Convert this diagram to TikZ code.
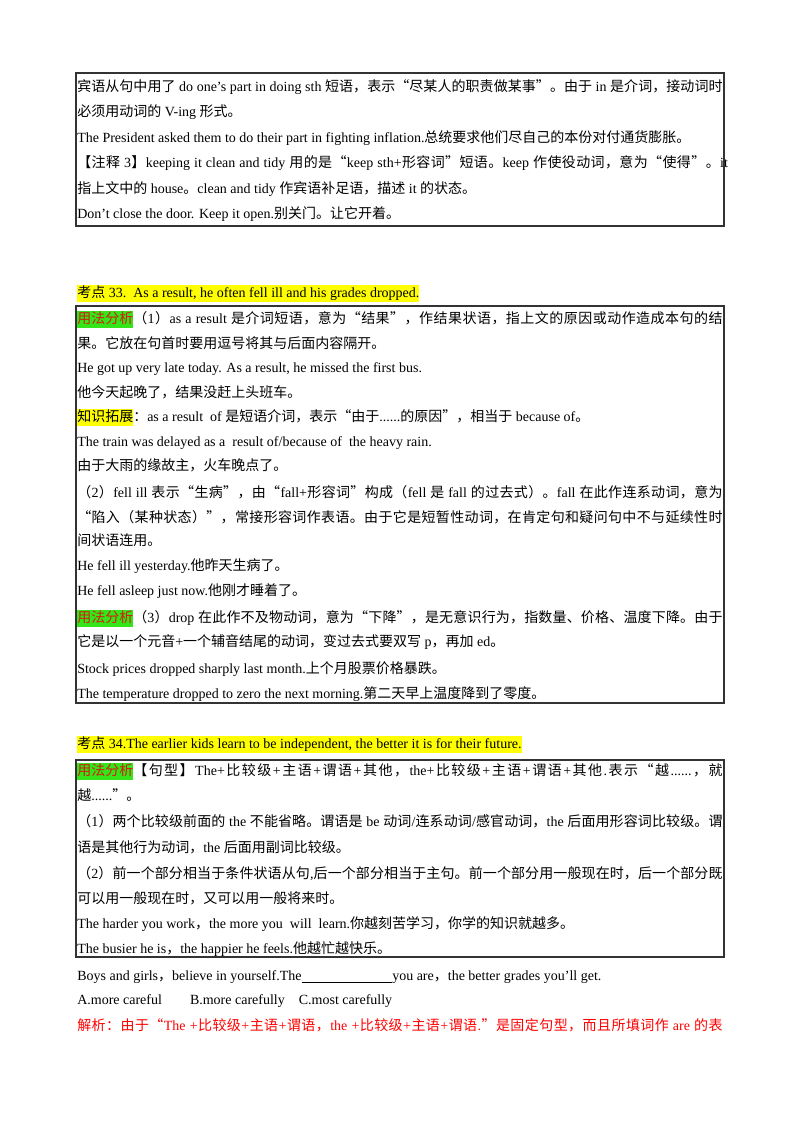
\documentclass[tikz,border=0pt]{standalone}
\usepackage{fontspec}
\setmainfont{Liberation Serif}
\newfontfamily\cjk{Noto Sans CJK SC}
\usetikzlibrary{positioning}
\XeTeXinterchartokenstate=1
\newXeTeXintercharclass\zhclass
\newcount\zhc
\def\zhrange#1#2{\zhc=#1 \loop\ifnum\zhc<#2 \XeTeXcharclass\zhc=\zhclass \advance\zhc 1 \repeat}
\zhrange{"3000}{"3040}
\zhrange{"4E00}{"A000}
\zhrange{"FF00}{"FFF0}
\XeTeXcharclass"201C=\zhclass
\XeTeXcharclass"201D=\zhclass
\XeTeXinterchartoks 0 \zhclass={\hskip0pt plus 1pt\cjk}
\XeTeXinterchartoks 4095 \zhclass={\cjk}
\XeTeXinterchartoks \zhclass 0={\hskip0pt plus 1pt\rmfamily}
\XeTeXinterchartoks \zhclass 4095={\rmfamily}
\XeTeXinterchartoks \zhclass \zhclass={\hskip0pt plus 1pt}
\definecolor{hlyellow}{rgb}{1,1,0}
\definecolor{hlgreen}{rgb}{0.2,0.9,0.1}
\definecolor{hlred}{rgb}{0.85,0.1,0.05}
\newcommand\hly[1]{{\fboxsep=0pt\colorbox{hlyellow}{\strut #1}}}
\newcommand\hlg[1]{{\fboxsep=0pt\colorbox{hlgreen}{\strut\textcolor{hlred}{#1}}}}
\newcommand\full[1]{\makebox[484pt][s]{#1}}
\begin{document}
\begin{tikzpicture}
  [x=0.75pt, y=-0.75pt,
   txt/.style={anchor=base west, inner sep=0pt, font=\fontsize{10.5}{12}\selectfont},
   frame/.style={draw=black!80, line width=0.9pt}]
  \useasboundingbox[fill=white] (0,0) rectangle (800,1132);
  % box 1
  \draw[frame] (76,73) rectangle (724,226);
  \node[txt] (a1) at (77,91) {\full{宾语从句中用了 do one’s part in doing sth 短语，表示“尽某人的职责做某事”。由于 in 是介词，接动词时}};
  \node[txt] (a2) at (77,116) {必须用动词的 V-ing 形式。};
  \node[txt] (a3) at (77,142) {The President asked them to do their part in fighting inflation.总统要求他们尽自己的本份对付通货膨胀。};
  \node[txt] (a4) at (77,167) {\makebox[488pt][s]{【注释 3】keeping it clean and tidy 用的是“keep sth+形容词”短语。keep 作使役动词，意为“使得”。it}};
  \node[txt] (a5) at (77,193) {指上文中的 house。clean and tidy 作宾语补足语，描述 it 的状态。};
  \node[txt] (a6) at (77,218) {Don’t close the door. Keep it open.别关门。让它开着。};
  % 33
  \node[txt] (t33) at (77,297) {\hly{考点 33.\ \ As a result, he often fell ill and his grades dropped.}};
  \draw[frame] (76,306) rectangle (724,703);
  \node[txt] (b1) at (77,323) {\full{\hlg{用法分析}（1）as a result 是介词短语，意为“结果”，作结果状语，指上文的原因或动作造成本句的结}};
  \node[txt] (b2) at (77,348) {果。它放在句首时要用逗号将其与后面内容隔开。};
  \node[txt] (b3) at (77,372) {He got up very late today. As a result, he missed the first bus.};
  \node[txt] (b4) at (77,397) {他今天起晚了，结果没赶上头班车。};
  \node[txt] (b5) at (77,421) {\hly{知识拓展}：as a result\ \ of 是短语介词，表示“由于......的原因”，相当于 because of。};
  \node[txt] (b6) at (77,446) {The train was delayed as a\ \ result of/because of\ \ the heavy rain.};
  \node[txt] (b7) at (77,470) {由于大雨的缘故主，火车晚点了。};
  \node[txt] (b8) at (77,497) {\full{（2）fell ill 表示“生病”，由“fall+形容词”构成（fell 是 fall 的过去式）。fall 在此作连系动词，意为}};
  \node[txt] (b9) at (77,522) {\full{“陷入（某种状态）”，常接形容词作表语。由于它是短暂性动词，在肯定句和疑问句中不与延续性时}};
  \node[txt] (b10) at (77,545) {间状语连用。};
  \node[txt] (b11) at (77,570) {He fell ill yesterday.他昨天生病了。};
  \node[txt] (b12) at (77,595) {He fell asleep just now.他刚才睡着了。};
  \node[txt] (b13) at (77,622) {\full{\hlg{用法分析}（3）drop 在此作不及物动词，意为“下降”，是无意识行为，指数量、价格、温度下降。由于}};
  \node[txt] (b14) at (77,646) {它是以一个元音+一个辅音结尾的动词，变过去式要双写 p，再加 ed。};
  \node[txt] (b15) at (77,673) {Stock prices dropped sharply last month.上个月股票价格暴跌。};
  \node[txt] (b16) at (77,698) {The temperature dropped to zero the next morning.第二天早上温度降到了零度。};
  % 34
  \node[txt] (t34) at (77,748) {\hly{考点 34.The earlier kids learn to be independent, the better it is for their future.}};
  \draw[frame] (76,760) rectangle (724,957);
  \node[txt] (c1) at (77,775) {\full{\hlg{用法分析}【句型】The+比较级+主语+谓语+其他，the+比较级+主语+谓语+其他.表示“越......，就}};
  \node[txt] (c2) at (77,800) {越......”。};
  \node[txt] (c3) at (77,826) {\full{（1）两个比较级前面的 the 不能省略。谓语是 be 动词/连系动词/感官动词，the 后面用形容词比较级。谓}};
  \node[txt] (c4) at (77,852) {语是其他行为动词，the 后面用副词比较级。};
  \node[txt] (c5) at (77,878) {\full{（2）前一个部分相当于条件状语从句,后一个部分相当于主句。前一个部分用一般现在时，后一个部分既}};
  \node[txt] (c6) at (77,903) {可以用一般现在时，又可以用一般将来时。};
  \node[txt] (c7) at (77,928) {The harder you work，the more you\ \ will\ \ learn.你越刻苦学习，你学的知识就越多。};
  \node[txt] (c8) at (77,953) {The busier he is，the happier he feels.他越忙越快乐。};
  \node[txt] (d1) at (77,980) {Boys and girls，believe in yourself.The\underline{\hspace{68pt}}you are，the better grades you’ll get.};
  \node[txt] (d2) at (77,1004) {A.more careful\qquad B.more carefully\quad C.most carefully};
  \node[txt, text=red] (d3) at (77,1030) {\full{解析：由于“The +比较级+主语+谓语，the +比较级+主语+谓语.”是固定句型，而且所填词作 are 的表}};
\end{tikzpicture}
\end{document}
